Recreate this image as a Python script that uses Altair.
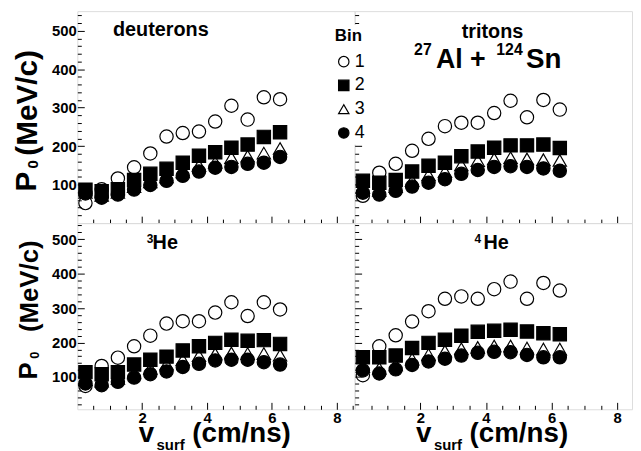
import altair as alt
import pandas as pd

FONT = "Liberation Sans"

# ---------------- data ----------------
x_vals = [0.25, 0.75, 1.25, 1.75, 2.25, 2.75, 3.25, 3.75, 4.25, 4.75, 5.25, 5.75, 6.25]
bins = ["1", "2", "3", "4"]

deut_1 = [52, 88, 116, 145, 181, 225, 234, 238, 264, 305, 269, 327, 322]
deut_2 = [87, 83, 88, 112, 128, 141, 157, 175, 184, 196, 204, 224, 236]
deut_3 = [80, 72, 80, 95, 107, 120, 133, 150, 158, 170, 174, 182, 194]
deut_4 = [77, 66, 74, 87, 99, 110, 123, 134, 144, 146, 154, 157, 172]

trit_1 = [71, 131, 154, 188, 219, 252, 261, 261, 286, 318, 275, 320, 295]
trit_2 = [110, 105, 112, 134, 149, 157, 174, 186, 196, 202, 202, 204, 195]
trit_3 = [92, 85, 95, 110, 125, 134, 151, 162, 167, 170, 167, 165, 163]
trit_4 = [79, 74, 84, 95, 105, 114, 128, 138, 146, 148, 146, 142, 136]

he3_1 = [74, 132, 156, 189, 220, 255, 262, 262, 287, 317, 277, 317, 296]
he3_2 = [114, 108, 114, 136, 150, 159, 177, 189, 199, 208, 205, 207, 196]
he3_3 = [92, 88, 96, 112, 125, 137, 150, 162, 167, 170, 168, 168, 163]
he3_4 = [81, 76, 86, 98, 108, 116, 129, 138, 148, 150, 150, 143, 136]

he4_1 = [105, 189, 221, 261, 291, 327, 334, 327, 355, 377, 327, 373, 351]
he4_2 = [157, 157, 162, 184, 199, 208, 220, 231, 234, 237, 232, 227, 224]
he4_3 = [130, 125, 135, 152, 165, 175, 182, 186, 190, 190, 184, 181, 181]
he4_4 = [119, 110, 122, 135, 145, 153, 162, 170, 173, 172, 164, 157, 157]

x_major = [2, 4, 6, 8]
x_minor = [0.5, 1, 1.5, 2.5, 3, 3.5, 4.5, 5, 5.5, 6.5, 7, 7.5, 8.5]
y_major = [100, 200, 300, 400, 500]
y_minor = [20, 40, 60, 80, 120, 140, 160, 180, 220, 240, 260, 280, 320, 340,
           360, 380, 420, 440, 460, 480, 520, 540]


def make_df(series):
    rows = []
    for b, vals in zip(bins, series):
        for xv, yv in zip(x_vals, vals):
            rows.append({"v": xv, "p": yv, "bin": b})
    return pd.DataFrame(rows)


legend = alt.Legend(
    title="Bin", orient="none", legendX=257, legendY=14,
    titleFont=FONT, titleFontSize=17, titleFontWeight="bold", titlePadding=8,
    labelFont=FONT, labelFontSize=18, labelOffset=2,
    symbolSize=110, symbolStrokeColor="black", symbolStrokeWidth=1.2,
    fillColor="white", padding=3, rowPadding=6, zindex=1,
)


def text_layer(s, px, py, size, weight="bold", angle=0):
    kw = dict(font=FONT, fontSize=size, fontWeight=weight, align="left",
              baseline="alphabetic", color="black")
    if angle:
        kw["angle"] = angle
    return alt.Chart(pd.DataFrame({"t": [s]})).mark_text(**kw).encode(
        text="t:N", x=alt.value(px), y=alt.value(py))


def panel(series, xdom, ydom, W, H, show_xlab, show_ylab, texts):
    df = make_df(series)
    xs = alt.Scale(domain=xdom, nice=False, zero=False)
    ys = alt.Scale(domain=ydom, nice=False, zero=False)
    base = alt.Chart(df)
    pts = base.mark_point(size=180, strokeWidth=1.2, opacity=1, filled=False).encode(
        x=alt.X("v:Q", scale=xs, axis=alt.Axis(
            title=None, domain=False, ticks=False, tickSize=0, grid=False,
            labels=show_xlab, values=x_major, labelFont=FONT, labelFontSize=15,
            labelFontWeight="bold", labelPadding=1, labelColor="black")),
        y=alt.Y("p:Q", scale=ys, axis=alt.Axis(
            title=None, domain=False, ticks=False, tickSize=0, grid=False,
            labels=show_ylab, values=y_major, labelFont=FONT, labelFontSize=15,
            labelFontWeight="bold", labelPadding=1, labelColor="black")),
        shape=alt.Shape("bin:N", scale=alt.Scale(
            domain=bins, range=["circle", "square", "triangle-up", "circle"]), legend=legend),
        fill=alt.Fill("bin:N", scale=alt.Scale(
            domain=bins, range=["transparent", "black", "transparent", "black"]), legend=legend),
        stroke=alt.Stroke("bin:N", scale=alt.Scale(
            domain=bins, range=["black", "black", "black", "black"]), legend=legend),
    )
    major = base.mark_point(opacity=0).encode(
        x=alt.X("v:Q", scale=xs, axis=alt.Axis(
            orient="top", offset=-H, values=x_major, tickSize=7, labels=False,
            domain=False, title=None, grid=False, tickColor="black")),
        y=alt.Y("p:Q", scale=ys, axis=alt.Axis(
            orient="right", offset=-W, values=y_major, tickSize=7, labels=False,
            domain=False, title=None, grid=False, tickColor="black")),
    )
    minor = base.mark_point(opacity=0).encode(
        x=alt.X("v:Q", scale=xs, axis=alt.Axis(
            orient="top", offset=-H, values=x_minor, tickSize=4, labels=False,
            domain=False, title=None, grid=False, tickColor="black")),
        y=alt.Y("p:Q", scale=ys, axis=alt.Axis(
            orient="right", offset=-W, values=y_minor, tickSize=4, labels=False,
            domain=False, title=None, grid=False, tickColor="black")),
    )
    return alt.layer(pts, major, minor, *texts).resolve_axis(
        x="independent", y="independent").properties(width=W, height=H)


W_L, W_R = 280, 280
H_T, H_B = 214, 188

p_deut = panel([deut_1, deut_2, deut_3, deut_4], [0, 8.55], [0, 551], W_L, H_T, False, True, [
    text_layer("deuterons", 36, 25, 20),
    text_layer("P", -42, 182, 30, angle=270),
    text_layer("0", -40, 159, 15, angle=270),
    text_layer("(MeV/c)", -41, 146, 30, angle=270),
])
p_trit = panel([trit_1, trit_2, trit_3, trit_4], [0, 8.45], [0, 551], W_R, H_T, False, False, [
    text_layer("tritons", 108, 27, 20),
    text_layer("27", 60, 44, 16),
    text_layer("Al +", 82, 57, 27),
    text_layer("124", 143, 44, 16),
    text_layer("Sn", 173, 57, 28),
])
p_he3 = panel([he3_1, he3_2, he3_3, he3_4], [0, 8.55], [6, 547], W_L, H_B, True, True, [
    text_layer("3", 70, 20, 12),
    text_layer("He", 76, 26, 20),
    text_layer("P", -41, 158, 26, angle=270),
    text_layer("0", -39, 137, 13, angle=270),
    text_layer("(MeV/c)", -40, 110, 26, angle=270),
    text_layer("v", 62, 221, 28),
    text_layer("surf", 80, 229, 15),
    text_layer("(cm/ns)", 116, 221, 28),
])
p_he4 = panel([he4_1, he4_2, he4_3, he4_4], [0, 8.45], [6, 547], W_R, H_B, True, False, [
    text_layer("4", 121, 20, 12),
    text_layer("He", 130, 26, 20),
    text_layer("v", 62, 221, 28),
    text_layer("surf", 80, 229, 15),
    text_layer("(cm/ns)", 116, 221, 28),
])

chart = alt.concat(
    p_deut, p_trit, p_he3, p_he4, columns=2, spacing=0, bounds="flush"
).resolve_scale(
    x="independent", y="independent", shape="shared", fill="shared", stroke="shared"
).properties(
    padding={"left": 3, "top": 0, "right": 0, "bottom": 0}
).configure_view(
    stroke="black", strokeWidth=1.2
).configure(background="white")

chart.save("out.html", embed_options={"renderer": "svg", "actions": False})
